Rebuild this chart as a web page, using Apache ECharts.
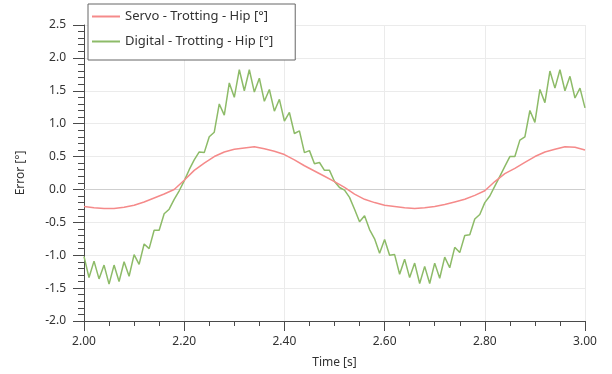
<!DOCTYPE html>
<html lang="en">
<head>
    <meta charset="UTF-8">
    <title>Trotting - Hip error</title>
    <script src="https://cdn.jsdelivr.net/npm/echarts@6/dist/echarts.min.js"></script>
    <style>
        html, body { margin: 0; padding: 0; background: #fff; }
    </style>
</head>
<body>
<div id="chart" style="width: 612px;height: 374px"></div>
<script type="text/javascript">
    // legend names
    var seriesNames = ['Servo - Trotting - Hip [°]', 'Digital - Trotting - Hip [°]'];

    // servo samples, every 0.02 s from 2.00
    var servoStart = 2.00, servoStep = 0.02;
    var servoValues = [
        -0.26, -0.28, -0.29, -0.29, -0.27, -0.24, -0.19, -0.13, -0.07, 0.00,
        0.14, 0.29, 0.40, 0.50, 0.57, 0.61, 0.63, 0.65, 0.62, 0.58,
        0.53, 0.45, 0.36, 0.28, 0.20, 0.12, 0.03, -0.07, -0.15, -0.20,
        -0.24, -0.26, -0.28, -0.29, -0.28, -0.26, -0.23, -0.19, -0.15, -0.09,
        -0.02, 0.12, 0.24, 0.32, 0.41, 0.50, 0.57, 0.61, 0.65, 0.64,
        0.60
    ];

    // digital samples, every 0.01 s from 2.00
    var digitalStart = 2.00, digitalStep = 0.01;
    var digitalValues = [
        -1.02, -1.34, -1.09, -1.36, -1.15, -1.44, -1.15, -1.40, -1.10, -1.32,
        -0.99, -1.14, -0.83, -0.90, -0.62, -0.62, -0.37, -0.30, -0.15, -0.02,
        0.13, 0.30, 0.45, 0.57, 0.56, 0.80, 0.87, 1.30, 1.13, 1.62,
        1.40, 1.82, 1.50, 1.82, 1.48, 1.69, 1.34, 1.52, 1.19, 1.37,
        1.04, 1.17, 0.85, 0.89, 0.56, 0.59, 0.39, 0.41, 0.29, 0.29,
        0.12, 0.03, -0.01, -0.12, -0.30, -0.49, -0.40, -0.61, -0.75, -0.97,
        -0.76, -1.00, -0.99, -1.29, -1.06, -1.34, -1.12, -1.43, -1.17, -1.43,
        -1.12, -1.35, -1.03, -1.19, -0.88, -0.96, -0.70, -0.69, -0.45, -0.38,
        -0.20, -0.10, 0.05, 0.20, 0.35, 0.50, 0.50, 0.75, 0.80, 1.20,
        1.02, 1.52, 1.32, 1.80, 1.54, 1.82, 1.50, 1.72, 1.39, 1.54,
        1.24
    ];

    function pairs(start, step, values) {
        var out = [];
        for (var i = 0; i < values.length; i++) {
            out.push([+(start + i * step).toFixed(3), values[i]]);
        }
        return out;
    }

    var FONT = 'Noto Sans';
    var axisColor = '#4a4a4a';
    var gridColor = '#ebebeb';

    var myChart = echarts.init(document.getElementById('chart'), null, {renderer: 'canvas'});
    var option = {
        backgroundColor: '#fff',
        animation: false,
        grid: {left: 84, right: 27, top: 25, bottom: 51, containLabel: false},
        legend: {
            orient: 'vertical',
            left: 88,
            top: 4,
            padding: [6, 22, 12, 3],
            itemWidth: 28,
            itemHeight: 14,
            itemGap: 12,
            backgroundColor: '#fff',
            borderColor: '#666',
            borderWidth: 1,
            itemStyle: {opacity: 0},
            textStyle: {fontFamily: FONT, fontSize: 13, color: '#333'},
            data: seriesNames
        },
        xAxis: {
            type: 'value',
            min: 2.0,
            max: 3.0,
            interval: 0.2,
            name: 'Time [s]',
            nameLocation: 'middle',
            nameGap: 36,
            nameTextStyle: {fontFamily: FONT, fontSize: 12, color: '#333'},
            axisLine: {show: true, onZero: false, lineStyle: {color: axisColor, width: 1}},
            axisTick: {show: true, length: 10, lineStyle: {color: axisColor, width: 1}},
            minorTick: {show: true, splitNumber: 4, length: 5, lineStyle: {color: axisColor, width: 1}},
            axisLabel: {
                fontFamily: FONT, fontSize: 12, color: '#333', margin: 15,
                formatter: function (v) { return v.toFixed(2); }
            },
            splitLine: {show: true, lineStyle: {color: gridColor}}
        },
        yAxis: {
            type: 'value',
            min: -2.0,
            max: 2.5,
            interval: 0.5,
            name: 'Error [°]',
            nameLocation: 'middle',
            nameGap: 57,
            nameRotate: 90,
            nameTextStyle: {fontFamily: FONT, fontSize: 12, color: '#333'},
            axisLine: {show: true, onZero: false, lineStyle: {color: axisColor, width: 1}},
            axisTick: {show: true, length: 11, lineStyle: {color: axisColor, width: 1}},
            minorTick: {show: true, splitNumber: 5, length: 6, lineStyle: {color: axisColor, width: 1}},
            axisLabel: {
                fontFamily: FONT, fontSize: 12, color: '#333', margin: 18,
                formatter: function (v) { return v.toFixed(1); }
            },
            splitLine: {show: true, lineStyle: {color: gridColor}}
        },
        series: [
            {
                name: seriesNames[0],
                type: 'line',
                symbol: 'none',
                z: 3,
                lineStyle: {color: '#f58a8a', width: 1.5},
                itemStyle: {color: '#f58a8a'},
                data: pairs(servoStart, servoStep, servoValues),
                markLine: {
                    silent: true,
                    symbol: 'none',
                    label: {show: false},
                    lineStyle: {color: '#cfcfcf', type: 'solid', width: 1},
                    data: [{yAxis: 0}],
                    z: 1
                }
            },
            {
                name: seriesNames[1],
                type: 'line',
                symbol: 'none',
                z: 2,
                lineStyle: {color: '#8dbb68', width: 1.5},
                itemStyle: {color: '#8dbb68'},
                data: pairs(digitalStart, digitalStep, digitalValues)
            }
        ]
    };
    myChart.setOption(option);
</script>
</body>
</html>
